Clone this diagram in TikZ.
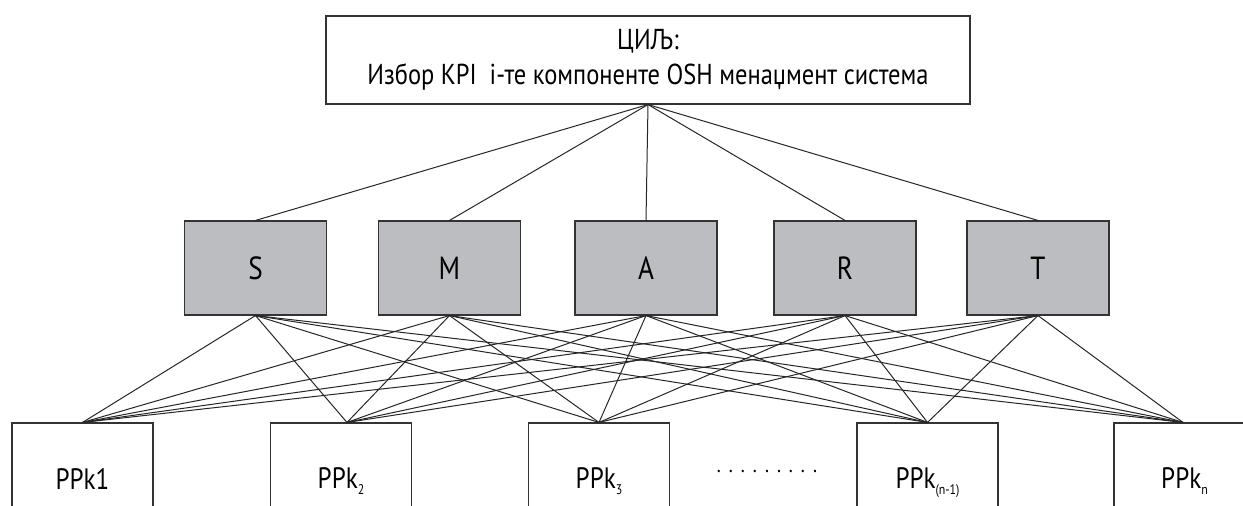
\documentclass[tikz,border=0pt]{standalone}
\usepackage{fontspec}
\setmainfont{PT Sans}[FakeStretch=0.85]
\definecolor{boxgray}{HTML}{BCBDC0}
\definecolor{edge}{HTML}{333333}
\newcommand{\sub}[1]{\raisebox{-0.4ex}{\fontsize{14}{14}\selectfont #1}}
\begin{document}
\begin{tikzpicture}[x=1pt,y=-1pt,
  goalbox/.style={draw=edge, line width=1.1pt, fill=white, inner sep=0pt,
    minimum width=644pt, minimum height=88pt, align=center,
    font=\fontsize{28.8}{35}\selectfont},
  critbox/.style={draw=edge, line width=1.1pt, fill=boxgray, inner sep=0pt,
    minimum width=142pt, minimum height=94pt, font=\fontsize{32}{32}\selectfont},
  altbox/.style={draw=edge, line width=1.1pt, fill=white, inner sep=0pt,
    minimum width=141pt, minimum height=120pt, font=\fontsize{29.5}{30}\selectfont},
  link/.style={draw=black!85, line width=1pt}]
\useasboundingbox (0,0) rectangle (1243,506);
\clip (0,0) rectangle (1243,506);
% goal
\node[goalbox] (goal) at (648,60) {ЦИЉ:\\Избор KPI\ \ i-те компоненте OSH менаџмент система};
% criteria
\node[critbox] (S) at (255.5,268) {S};
\node[critbox] (M) at (449.5,268) {M};
\node[critbox] (A) at (646,268) {A};
\node[critbox] (R) at (845,268) {R};
\node[critbox] (T) at (1038,268) {T};
% alternatives
\node[altbox] (p1) at (82.5,483) {\raisebox{9pt}{PPk1}};
\node[altbox] (p2) at (341,483) {\raisebox{9pt}{PPk\sub{2}}};
\node[altbox] (p3) at (599,483) {\raisebox{9pt}{PPk\sub{3}}};
\node[altbox] (p4) at (927.5,483) {\raisebox{9pt}{PPk\sub{(n-1)}}};
\node[altbox] (p5) at (1184.5,483) {\raisebox{9pt}{PPk\sub{n}}};
\node[font=\fontsize{22}{22}\selectfont] (dots) at (767,471) {.\hspace{8pt}.\hspace{8pt}.\hspace{8pt}.\hspace{8pt}.\hspace{8pt}.\hspace{8pt}.\hspace{8pt}.\hspace{8pt}.};
\coordinate (p1t) at (p1.north);
\coordinate (p2t) at ([xshift=6pt]p2.north);
\coordinate (p3t) at (p3.north);
\coordinate (p4t) at (p4.north);
\coordinate (p5t) at ([xshift=-1.5pt]p5.north);
% links
\foreach \m in {S,M,A,R,T} {
  \draw[link] (goal.south) -- (\m.north);
  \foreach \p in {p1t,p2t,p3t,p4t,p5t} {
    \draw[link] (\m.south) -- (\p);
  }
}
\end{tikzpicture}
\end{document}
